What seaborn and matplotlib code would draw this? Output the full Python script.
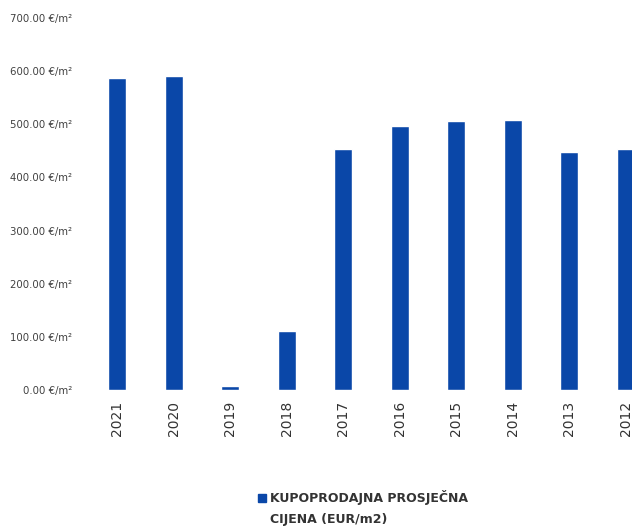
import matplotlib
matplotlib.use("Agg")
import matplotlib.pyplot as plt
import seaborn as sns
import pandas as pd
from matplotlib.patches import Rectangle

years = ["2021", "2020", "2019", "2018", "2017", "2016", "2015", "2014", "2013", "2012"]
prices = [588, 590, 8, 111, 453, 496, 507, 508, 448, 454]
yticks = [0, 100, 200, 300, 400, 500, 600, 700]
ytick_labels = [f"{v:.2f} €/m²" for v in yticks]
legend_label = "KUPOPRODAJNA PROSJEČNA\nCIJENA (EUR/m2)"
bar_color = "#0A47A8"

df = pd.DataFrame({"year": years, "price": prices})

sns.set_style("white")
plt.rcParams["font.family"] = ["DejaVu Sans"]

fig = plt.figure(figsize=(6.32, 5.31), dpi=100)
ax = fig.add_axes([89 / 632, 1 - 390 / 531, 565 / 632, (390 - 18) / 531])

sns.barplot(data=df, x="year", y="price", color=bar_color, saturation=1,
            width=0.32, ax=ax, order=years)

ax.set_ylim(0, 700)
ax.set_xlim(-0.5, len(years) - 0.5)
ax.set_yticks(yticks)
ax.set_yticklabels(ytick_labels, fontsize=7.3, color="#404040")
ax.tick_params(axis="y", length=0, pad=12)
ax.tick_params(axis="x", length=0, pad=8)
for lbl in ax.get_xticklabels():
    lbl.set_rotation(90)
    lbl.set_fontsize(10)
    lbl.set_color("#333333")
ax.set_xlabel("")
ax.set_ylabel("")
for s in ax.spines.values():
    s.set_visible(False)

fig.patches.append(Rectangle((258 / 632, 1 - 502 / 531), 8 / 632, 8 / 531,
                             transform=fig.transFigure, color=bar_color))
fig.text(270 / 632, 1 - 490 / 531, legend_label, fontsize=9, fontweight="bold",
         color="#333333", va="top", ha="left", linespacing=1.75,
         transform=fig.transFigure)

fig.savefig("out.png", dpi=100)
